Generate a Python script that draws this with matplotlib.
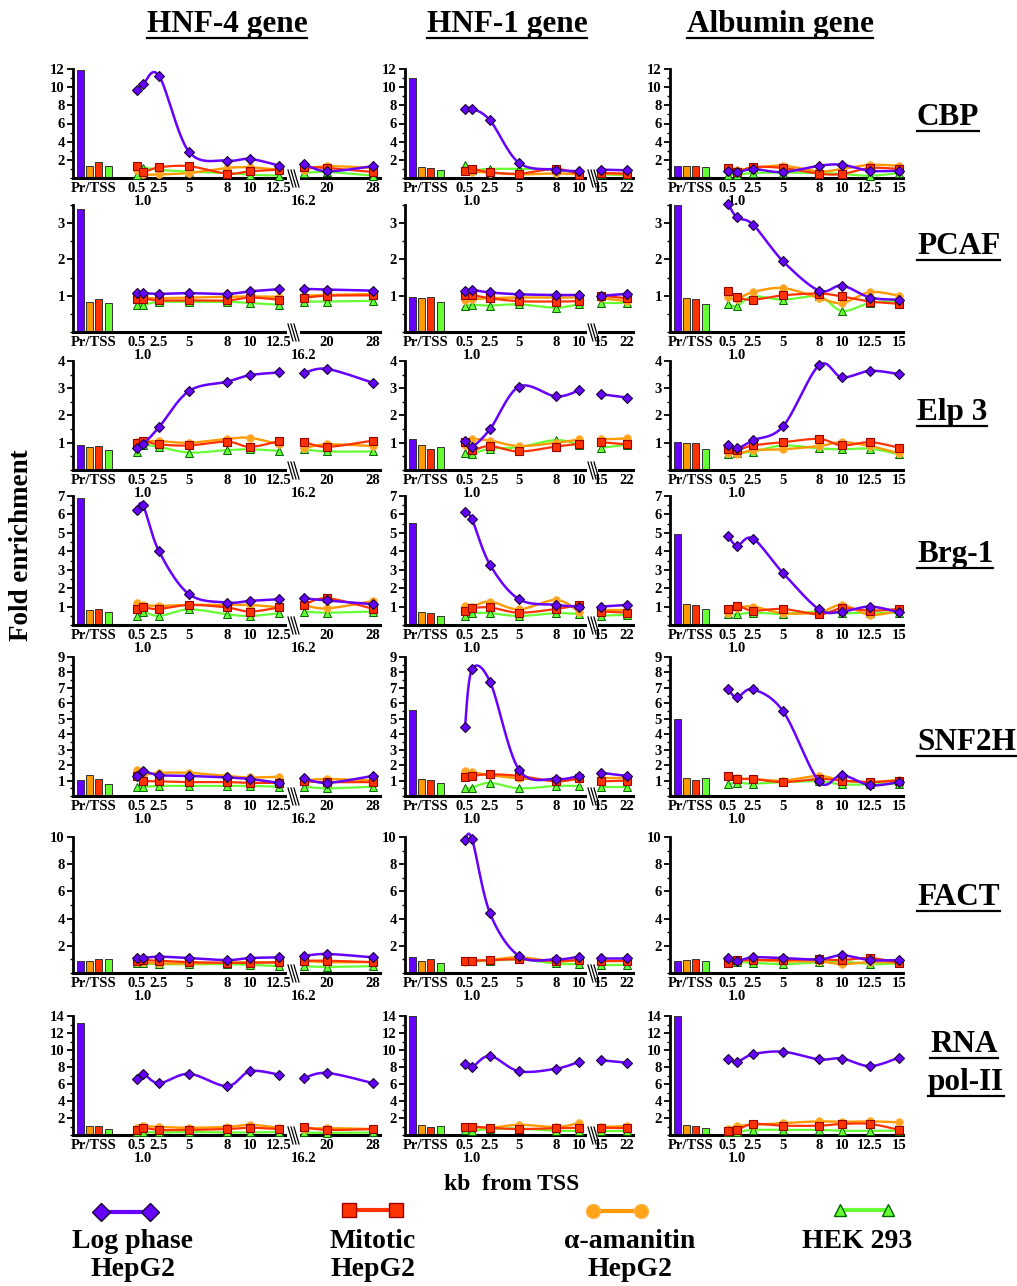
import numpy as np
import matplotlib
matplotlib.use("Agg")
import matplotlib.pyplot as plt
from matplotlib.lines import Line2D
from matplotlib.ticker import MultipleLocator

plt.rcParams['font.family'] = ['Liberation Serif', 'DejaVu Serif']
plt.rcParams['font.weight'] = 'bold'

# ---------------- DATA ----------------
genes = ["HNF-4 gene", "HNF-1 gene", "Albumin gene"]
factors = ["CBP", "PCAF", "Elp 3", "Brg-1", "SNF2H", "FACT", "RNA\npol-II"]
series_names = ["Log phase\nHepG2", "Mitotic\nHepG2", "\u03b1-amanitin\nHepG2", "HEK 293"]
bar_label = "Pr/TSS"
kb_hnf4 = ["0.5", "1.0", "2.5", "5", "8", "10", "12.5", "16.2", "20", "28"]
kb_hnf1 = ["0.5", "1.0", "2.5", "5", "8", "10", "15", "22"]
kb_alb = ["0.5", "1.0", "2.5", "5", "8", "10", "12.5", "15"]
x_title = "kb  from TSS"
y_title = "Fold enrichment"

# bars order: log, mitotic, amanitin, hek
cbp_hnf4_bars = [11.9, 1.77, 1.37, 1.37]
cbp_hnf4_log = [9.67, 10.3, 11.25, 2.88, 1.92, 2.1, 1.37, 1.55, 0.74, 1.3]
cbp_hnf4_mit = [1.3, 0.66, 1.18, 1.3, 0.48, 0.74, 0.92, 1.2, 1.1, 0.66]
cbp_hnf4_ama = [0.9, 0.4, 0.4, 0.55, 1.1, 1.18, 0.9, 0.9, 1.3, 1.1]
cbp_hnf4_hek = [0.37, 1.1, 0.9, 0.7, 0.55, 0.37, 0.26, 0.55, 0.66, 0.26]

cbp_hnf1_bars = [11.0, 1.1, 1.22, 0.85]
cbp_hnf1_log = [7.64, 7.64, 6.35, 1.66, 0.92, 0.74, 0.92, 0.85]
cbp_hnf1_mit = [0.74, 1.0, 0.63, 0.48, 1.0, 0.37, 0.55, 0.48]
cbp_hnf1_ama = [0.8, 0.7, 0.6, 0.4, 0.5, 0.4, 0.5, 0.4]
cbp_hnf1_hek = [1.48, 0.9, 1.0, 1.0, 0.9, 0.5, 0.4, 0.3]

cbp_alb_bars = [1.35, 1.35, 1.27, 1.16]
cbp_alb_log = [0.73, 0.62, 0.98, 0.65, 1.35, 1.45, 0.8, 0.8]
cbp_alb_mit = [1.1, 0.62, 1.2, 1.1, 0.47, 0.44, 1.1, 1.0]
cbp_alb_ama = [1.0, 0.9, 1.1, 1.35, 0.73, 1.0, 1.45, 1.35]
cbp_alb_hek = [0.36, 0.36, 0.55, 0.6, 0.55, 0.44, 0.25, 0.55]

pcaf_hnf4_bars = [3.4, 0.92, 0.84, 0.8]
pcaf_hnf4_log = [1.07, 1.07, 1.05, 1.07, 1.05, 1.12, 1.18, 1.19, 1.17, 1.14]
pcaf_hnf4_mit = [0.92, 0.92, 0.87, 0.87, 0.87, 0.95, 0.89, 0.94, 1.0, 1.01]
pcaf_hnf4_ama = [0.97, 0.95, 0.93, 0.95, 0.97, 0.98, 0.97, 1.0, 1.02, 1.05]
pcaf_hnf4_hek = [0.75, 0.75, 0.83, 0.83, 0.83, 0.8, 0.75, 0.84, 0.84, 0.86]

pcaf_hnf1_bars = [0.97, 0.97, 0.95, 0.82]
pcaf_hnf1_log = [1.14, 1.16, 1.09, 1.04, 1.02, 1.02, 1.0, 1.05]
pcaf_hnf1_mit = [1.02, 1.02, 0.93, 0.85, 0.84, 0.85, 1.0, 0.93]
pcaf_hnf1_ama = [0.88, 0.9, 0.93, 0.95, 0.95, 0.95, 0.93, 0.85]
pcaf_hnf1_hek = [0.73, 0.75, 0.73, 0.76, 0.67, 0.77, 0.79, 0.79]

pcaf_alb_bars = [3.5, 0.91, 0.93, 0.78]
pcaf_alb_log = [3.53, 3.16, 2.96, 1.95, 1.14, 1.28, 0.95, 0.89]
pcaf_alb_mit = [1.14, 0.96, 0.89, 1.01, 1.06, 0.98, 0.84, 0.78]
pcaf_alb_ama = [0.96, 0.91, 1.1, 1.21, 0.94, 0.8, 1.1, 1.0]
pcaf_alb_hek = [0.78, 0.72, 0.98, 0.89, 0.98, 0.58, 0.8, 0.86]

elp3_hnf4_bars = [0.9, 0.88, 0.83, 0.73]
elp3_hnf4_log = [0.79, 0.94, 1.57, 2.9, 3.24, 3.48, 3.58, 3.56, 3.71, 3.2]
elp3_hnf4_mit = [0.98, 1.06, 0.94, 0.9, 1.04, 0.85, 1.06, 1.04, 0.85, 1.08]
elp3_hnf4_ama = [1.02, 1.06, 1.06, 1.0, 1.14, 1.18, 0.94, 0.8, 0.94, 0.88]
elp3_hnf4_hek = [0.67, 0.9, 0.85, 0.64, 0.73, 0.76, 0.7, 0.76, 0.68, 0.68]

elp3_hnf1_bars = [1.12, 0.78, 0.9, 0.86]
elp3_hnf1_log = [1.06, 0.86, 1.5, 3.06, 2.7, 2.92, 2.78, 2.66]
elp3_hnf1_mit = [1.02, 0.74, 0.88, 0.68, 0.86, 0.96, 1.02, 0.94]
elp3_hnf1_ama = [0.92, 1.12, 1.08, 0.88, 1.0, 1.12, 1.12, 1.16]
elp3_hnf1_hek = [0.64, 0.6, 0.78, 0.84, 1.1, 0.92, 0.82, 0.92]

elp3_alb_bars = [1.03, 1.0, 1.0, 0.76]
elp3_alb_log = [0.91, 0.79, 1.09, 1.6, 3.84, 3.4, 3.64, 3.52]
elp3_alb_mit = [0.76, 0.73, 0.9, 1.02, 1.14, 0.9, 1.02, 0.82]
elp3_alb_ama = [0.64, 0.58, 0.73, 0.76, 0.88, 1.02, 0.88, 0.61]
elp3_alb_hek = [0.58, 0.64, 0.67, 0.9, 0.79, 0.76, 0.78, 0.58]

brg1_hnf4_bars = [6.9, 0.87, 0.82, 0.73]
brg1_hnf4_log = [6.24, 6.5, 4.0, 1.67, 1.22, 1.31, 1.4, 1.45, 1.33, 1.13]
brg1_hnf4_mit = [0.87, 0.95, 0.87, 1.09, 0.95, 0.73, 0.95, 1.09, 1.45, 0.88]
brg1_hnf4_ama = [1.18, 1.09, 1.04, 1.09, 1.09, 1.09, 0.96, 1.09, 0.9, 1.3]
brg1_hnf4_hek = [0.51, 0.73, 0.49, 0.85, 0.58, 0.49, 0.64, 0.73, 0.67, 0.73]

brg1_hnf1_bars = [5.55, 0.64, 0.69, 0.51]
brg1_hnf1_log = [6.15, 5.73, 3.27, 1.4, 1.09, 1.0, 1.0, 1.09]
brg1_hnf1_mit = [0.78, 0.91, 0.95, 0.67, 0.87, 1.09, 0.73, 0.67]
brg1_hnf1_ama = [1.05, 1.0, 1.27, 0.85, 1.36, 0.73, 0.82, 0.82]
brg1_hnf1_hek = [0.49, 0.64, 0.64, 0.49, 0.64, 0.6, 0.51, 0.55]

brg1_alb_bars = [4.96, 1.09, 1.13, 0.87]
brg1_alb_log = [4.85, 4.31, 4.69, 2.82, 0.85, 0.73, 1.0, 0.69]
brg1_alb_mit = [0.85, 1.04, 0.78, 0.87, 0.58, 0.91, 0.78, 0.87]
brg1_alb_ama = [0.67, 0.91, 1.0, 0.64, 0.69, 1.09, 0.55, 0.78]
brg1_alb_hek = [0.6, 0.58, 0.67, 0.6, 0.73, 0.64, 0.67, 0.67]

snf2h_hnf4_bars = [1.03, 1.1, 1.35, 0.77]
snf2h_hnf4_log = [1.3, 1.6, 1.35, 1.3, 1.2, 1.1, 0.85, 1.15, 0.85, 1.3]
snf2h_hnf4_mit = [1.3, 1.0, 0.95, 0.9, 0.9, 0.85, 0.85, 0.95, 0.9, 0.9]
snf2h_hnf4_ama = [1.7, 1.4, 1.5, 1.5, 1.3, 1.2, 1.25, 1.0, 1.1, 1.0]
snf2h_hnf4_hek = [0.6, 0.6, 0.65, 0.65, 0.65, 0.65, 0.6, 0.6, 0.5, 0.6]

snf2h_hnf1_bars = [5.6, 1.05, 1.1, 0.85]
snf2h_hnf1_log = [4.5, 8.2, 7.4, 1.7, 1.1, 1.3, 1.5, 1.3]
snf2h_hnf1_mit = [1.2, 1.3, 1.4, 1.3, 0.95, 1.15, 0.95, 1.0]
snf2h_hnf1_ama = [1.6, 1.55, 1.35, 1.15, 1.0, 1.1, 1.15, 1.15]
snf2h_hnf1_hek = [0.5, 0.55, 0.85, 0.5, 0.65, 0.65, 0.6, 0.6]

snf2h_alb_bars = [5.0, 1.05, 1.15, 1.15]
snf2h_alb_log = [6.9, 6.4, 6.9, 5.5, 0.95, 1.35, 0.7, 0.9]
snf2h_alb_mit = [1.3, 1.1, 1.1, 0.9, 1.1, 1.0, 0.9, 1.0]
snf2h_alb_ama = [1.3, 1.15, 1.1, 1.0, 1.3, 1.0, 0.9, 1.05]
snf2h_alb_hek = [0.75, 0.85, 0.8, 0.9, 0.95, 0.75, 0.75, 0.8]

fact_hnf4_bars = [0.9, 1.0, 0.9, 1.0]
fact_hnf4_log = [1.1, 1.1, 1.2, 1.1, 0.95, 1.1, 1.15, 1.25, 1.4, 1.15]
fact_hnf4_mit = [0.9, 0.95, 0.9, 0.8, 0.75, 0.75, 0.8, 0.9, 0.9, 0.8]
fact_hnf4_ama = [0.8, 0.8, 0.7, 0.7, 0.75, 0.8, 0.75, 0.9, 0.8, 0.8]
fact_hnf4_hek = [0.7, 0.7, 0.65, 0.65, 0.65, 0.6, 0.5, 0.5, 0.45, 0.5]

fact_hnf1_bars = [1.2, 1.0, 0.9, 0.75]
fact_hnf1_log = [9.8, 9.85, 4.4, 1.25, 1.0, 1.2, 1.1, 1.1]
fact_hnf1_mit = [0.9, 0.9, 0.95, 1.0, 0.9, 0.95, 0.9, 0.9]
fact_hnf1_ama = [0.8, 0.9, 0.95, 1.15, 0.85, 0.95, 0.9, 0.9]
fact_hnf1_hek = [0.85, 0.85, 0.9, 1.0, 0.7, 0.65, 0.6, 0.6]

fact_alb_bars = [0.9, 1.05, 0.95, 0.85]
fact_alb_log = [1.1, 0.9, 1.15, 1.1, 1.0, 1.3, 0.95, 0.95]
fact_alb_mit = [0.75, 0.95, 0.95, 0.95, 1.0, 0.95, 1.1, 0.75]
fact_alb_ama = [0.9, 0.85, 0.95, 0.85, 0.85, 0.65, 0.8, 0.75]
fact_alb_hek = [0.75, 0.8, 0.75, 0.65, 0.8, 0.85, 0.65, 0.7]

pol2_hnf4_bars = [13.2, 1.05, 1.05, 0.7]
pol2_hnf4_log = [6.6, 7.2, 6.1, 7.2, 5.75, 7.5, 7.1, 6.7, 7.3, 6.1]
pol2_hnf4_mit = [0.6, 0.85, 0.6, 0.6, 0.7, 0.85, 0.7, 0.95, 0.6, 0.7]
pol2_hnf4_ama = [0.85, 1.05, 0.95, 0.85, 0.95, 1.2, 0.85, 0.7, 0.8, 0.7]
pol2_hnf4_hek = [0.3, 0.35, 0.3, 0.35, 0.3, 0.3, 0.35, 0.3, 0.25, 0.3]

pol2_hnf1_bars = [14.0, 1.0, 1.2, 1.1]
pol2_hnf1_log = [8.4, 8.0, 9.3, 7.5, 7.8, 8.6, 8.8, 8.5]
pol2_hnf1_mit = [0.95, 1.0, 0.85, 0.7, 0.8, 0.85, 0.85, 0.8]
pol2_hnf1_ama = [0.95, 0.95, 0.85, 1.2, 0.95, 1.4, 0.95, 1.05]
pol2_hnf1_hek = [0.6, 0.5, 0.7, 0.75, 0.5, 0.5, 0.5, 0.5]

pol2_alb_bars = [14.0, 1.05, 1.2, 0.85]
pol2_alb_log = [8.9, 8.6, 9.5, 9.8, 8.9, 9.0, 8.1, 9.1]
pol2_alb_mit = [0.5, 0.6, 1.3, 1.1, 1.1, 1.3, 1.3, 0.6]
pol2_alb_ama = [0.7, 1.05, 1.2, 1.4, 1.6, 1.55, 1.6, 1.5]
pol2_alb_hek = [0.35, 0.35, 0.6, 0.6, 0.6, 0.5, 0.5, 0.5]

panel_data = {
    (0, 0): (cbp_hnf4_bars, cbp_hnf4_log, cbp_hnf4_mit, cbp_hnf4_ama, cbp_hnf4_hek),
    (0, 1): (cbp_hnf1_bars, cbp_hnf1_log, cbp_hnf1_mit, cbp_hnf1_ama, cbp_hnf1_hek),
    (0, 2): (cbp_alb_bars, cbp_alb_log, cbp_alb_mit, cbp_alb_ama, cbp_alb_hek),
    (1, 0): (pcaf_hnf4_bars, pcaf_hnf4_log, pcaf_hnf4_mit, pcaf_hnf4_ama, pcaf_hnf4_hek),
    (1, 1): (pcaf_hnf1_bars, pcaf_hnf1_log, pcaf_hnf1_mit, pcaf_hnf1_ama, pcaf_hnf1_hek),
    (1, 2): (pcaf_alb_bars, pcaf_alb_log, pcaf_alb_mit, pcaf_alb_ama, pcaf_alb_hek),
    (2, 0): (elp3_hnf4_bars, elp3_hnf4_log, elp3_hnf4_mit, elp3_hnf4_ama, elp3_hnf4_hek),
    (2, 1): (elp3_hnf1_bars, elp3_hnf1_log, elp3_hnf1_mit, elp3_hnf1_ama, elp3_hnf1_hek),
    (2, 2): (elp3_alb_bars, elp3_alb_log, elp3_alb_mit, elp3_alb_ama, elp3_alb_hek),
    (3, 0): (brg1_hnf4_bars, brg1_hnf4_log, brg1_hnf4_mit, brg1_hnf4_ama, brg1_hnf4_hek),
    (3, 1): (brg1_hnf1_bars, brg1_hnf1_log, brg1_hnf1_mit, brg1_hnf1_ama, brg1_hnf1_hek),
    (3, 2): (brg1_alb_bars, brg1_alb_log, brg1_alb_mit, brg1_alb_ama, brg1_alb_hek),
    (4, 0): (snf2h_hnf4_bars, snf2h_hnf4_log, snf2h_hnf4_mit, snf2h_hnf4_ama, snf2h_hnf4_hek),
    (4, 1): (snf2h_hnf1_bars, snf2h_hnf1_log, snf2h_hnf1_mit, snf2h_hnf1_ama, snf2h_hnf1_hek),
    (4, 2): (snf2h_alb_bars, snf2h_alb_log, snf2h_alb_mit, snf2h_alb_ama, snf2h_alb_hek),
    (5, 0): (fact_hnf4_bars, fact_hnf4_log, fact_hnf4_mit, fact_hnf4_ama, fact_hnf4_hek),
    (5, 1): (fact_hnf1_bars, fact_hnf1_log, fact_hnf1_mit, fact_hnf1_ama, fact_hnf1_hek),
    (5, 2): (fact_alb_bars, fact_alb_log, fact_alb_mit, fact_alb_ama, fact_alb_hek),
    (6, 0): (pol2_hnf4_bars, pol2_hnf4_log, pol2_hnf4_mit, pol2_hnf4_ama, pol2_hnf4_hek),
    (6, 1): (pol2_hnf1_bars, pol2_hnf1_log, pol2_hnf1_mit, pol2_hnf1_ama, pol2_hnf1_hek),
    (6, 2): (pol2_alb_bars, pol2_alb_log, pol2_alb_mit, pol2_alb_ama, pol2_alb_hek),
}

# ---------------- LAYOUT / STYLE ----------------
W, H = 1017, 1286
fig = plt.figure(figsize=(W / 100, H / 100), dpi=100)

col_kb = [kb_hnf4, kb_hnf1, kb_alb]
col_left = [73, 405, 670]
col_width = [307, 228, 233]
col_pos = [[64, 70, 86, 116, 154, 177, 206, 231, 254, 300],
           [60, 67, 85, 114, 151, 174, 196, 222],
           [58, 67, 83, 113, 149, 172, 200, 229]]
col_split = [7, 6, None]          # index where segment after axis break starts
col_break = [(212, 228), (180, 194), None]
bar_pos = [7, 16, 25.5, 35]       # log, amanitin, mitotic, hek
bar_center = 21
bar_w = 7
stagger = {"1.0", "16.2"}

row_top = [69, 205, 361, 496, 657, 837, 1016]
row_bot = [178, 332, 470, 625, 796, 973, 1135]
row_ymax = [12, 3.5, 4, 7, 9, 10, 14]
row_step = [2, 1, 1, 1, 1, 2, 2]

PURPLE, RED, ORANGE, GREEN = '#6600ff', '#ff3300', '#ff9900', '#66ff33'
sty = {
    'log': dict(color=PURPLE, marker='D', ms=5.2, mfc=PURPLE, mec='#1a0033', mew=0.8, lw=1.8),
    'mit': dict(color=RED, marker='s', ms=5.5, mfc=RED, mec='#990000', mew=0.8, lw=1.6),
    'ama': dict(color=ORANGE, marker='o', ms=5.5, mfc='#ffa31a', mec='#ffb347', mew=0.6, lw=1.7),
    'hek': dict(color=GREEN, marker='^', ms=5.5, mfc=GREEN, mec='#006600', mew=0.7, lw=1.6),
}
TICKFONT = dict(fontsize=10.5, fontweight='bold', family='Liberation Serif')


def smooth(xs, ys, n=24):
    pts = np.column_stack([xs, ys]).astype(float)
    if len(pts) < 3:
        return pts[:, 0], pts[:, 1]
    P = np.vstack([pts[0], pts, pts[-1]])
    out = []
    t = np.linspace(0, 1, n)[:, None]
    for i in range(1, len(P) - 2):
        p0, p1, p2, p3 = P[i - 1], P[i], P[i + 1], P[i + 2]
        c1 = p1 + (p2 - p0) / 6
        c2 = p2 - (p3 - p1) / 6
        seg = (1 - t) ** 3 * p1 + 3 * (1 - t) ** 2 * t * c1 + 3 * (1 - t) * t ** 2 * c2 + t ** 3 * p2
        out.append(seg if i == 1 else seg[1:])
    out = np.vstack(out)
    return out[:, 0], out[:, 1]


def px_axes(left, top, width, height):
    return fig.add_axes([left / W, 1 - (top + height) / H, width / W, height / H])


for r in range(7):
    for c in range(3):
        bars, log, mit, ama, hek = panel_data[(r, c)]
        h = row_bot[r] - row_top[r]
        ax = px_axes(col_left[c], row_top[r], col_width[c], h)
        ax.set_xlim(0, col_width[c])
        ax.set_ylim(0, row_ymax[r])
        ax.patch.set_alpha(0)
        for s in ['top', 'right', 'bottom']:
            ax.spines[s].set_visible(False)
        ax.spines['left'].set_linewidth(2)
        # bars: log, amanitin, mitotic, hek order
        bar_vals = [bars[0], bars[2], bars[1], bars[3]]
        bar_cols = [PURPLE, ORANGE, RED, GREEN]
        ax.bar(bar_pos, bar_vals, width=bar_w, color=bar_cols, edgecolor='#333333',
               linewidth=0.7, clip_on=False, zorder=2)
        # x axis with break
        xt = ax.get_xaxis_transform()
        brk = col_break[c]
        if brk is None:
            ax.plot([0, col_width[c]], [0, 0], color='black', lw=2.2, transform=xt, clip_on=False, zorder=5)
        else:
            ax.plot([0, brk[0]], [0, 0], color='black', lw=2.2, transform=xt, clip_on=False, zorder=5)
            ax.plot([brk[1], col_width[c]], [0, 0], color='black', lw=2.2, transform=xt, clip_on=False, zorder=5)
            bx = brk[0] + 3
            for k in range(3):
                x0 = bx + k * 3
                ax.plot([x0, x0 + 5], [8 / h, -9 / h], color='black', lw=0.9,
                        transform=xt, clip_on=False, zorder=5)
        # lines
        pos = np.array(col_pos[c], dtype=float)
        split = col_split[c]
        segs = [(0, len(pos))] if split is None else [(0, split), (split, len(pos))]
        for key, vals in [('hek', hek), ('ama', ama), ('mit', mit), ('log', log)]:
            st = sty[key]
            vals = np.array(vals, dtype=float)
            z = {'hek': 6, 'ama': 7, 'mit': 8, 'log': 9}[key]
            for a, b in segs:
                sx, sy = smooth(pos[a:b], vals[a:b])
                ax.plot(sx, sy, color=st['color'], lw=st['lw'], clip_on=False, zorder=z,
                        solid_capstyle='round')
                ax.plot(pos[a:b], vals[a:b], ls='none', marker=st['marker'], ms=st['ms'],
                        mfc=st['mfc'], mec=st['mec'], mew=st['mew'], clip_on=False, zorder=z + 0.5)
        # ticks
        labels = [bar_label] + list(col_kb[c])
        ax.set_xticks([bar_center] + list(pos))
        ax.set_xticklabels(labels, **TICKFONT)
        ax.tick_params(axis='x', length=0, pad=3)
        for tk, lab in zip(ax.xaxis.get_major_ticks(), labels):
            if lab in stagger:
                tk.set_pad(3 + 9.5)
        step = row_step[r]
        yt = np.arange(step, row_ymax[r] + 1e-9, step)
        ax.set_yticks(yt)
        ax.set_yticklabels([f"{v:g}" for v in yt], **TICKFONT)
        ax.yaxis.set_minor_locator(MultipleLocator(step / 2))
        ax.tick_params(axis='y', which='major', length=4, width=1.3, pad=2, direction='out')
        ax.tick_params(axis='y', which='minor', length=2.5, width=1.0, direction='out')


def ftext(x, y, s, **kw):
    return fig.text(x / W, 1 - y / H, s, **kw)


HEAD = dict(fontweight='bold', family='Liberation Serif')
title_x = [227, 507, 780]
texts_ul = []
for c in range(3):
    texts_ul.append(ftext(title_x[c], 32, genes[c], ha='center', va='baseline', fontsize=22.5, **HEAD))

row_lab_y = [125, 254, 420, 562, 750, 905]
for r in range(6):
    texts_ul.append(ftext(917, row_lab_y[r], factors[r], ha='left', va='baseline', fontsize=22.5, **HEAD))
rna1, rna2 = factors[6].split("\n")
texts_ul.append(ftext(964, 1052, rna1, ha='center', va='baseline', fontsize=22.5, **HEAD))
texts_ul.append(ftext(966, 1090, rna2, ha='center', va='baseline', fontsize=22.5, **HEAD))

ftext(22, 545, y_title, ha='center', va='center', rotation=90, fontsize=19.5, **HEAD)
ftext(512, 1185, x_title, ha='center', va='center', fontsize=17, **HEAD)

# legend
leg_x = [(101, 150), (349, 396), (593, 641), (840, 888)]
leg_y = [1212, 1210, 1211, 1210]
leg_keys = ['log', 'mit', 'ama', 'hek']
leg_ms = {'log': 9.5, 'mit': 10, 'ama': 10, 'hek': 9}
for (x1, x2), y, key in zip(leg_x, leg_y, leg_keys):
    st = sty[key]
    fig.add_artist(Line2D([x1 / W, x2 / W], [1 - y / H, 1 - y / H], transform=fig.transFigure,
                          color=st['color'], lw=3, marker=st['marker'], ms=leg_ms[key],
                          mfc=st['mfc'], mec=st['mec'], mew=1.0))
leg_cx = [133, 373, 630, 857]
for cx, name in zip(leg_cx, series_names):
    lines = name.split("\n")
    ftext(cx, 1241, lines[0], ha='center', va='center', fontsize=20, **HEAD)
    if len(lines) > 1:
        ftext(cx, 1270, lines[1], ha='center', va='center', fontsize=20, **HEAD)

# underlines
fig.canvas.draw()
rend = fig.canvas.get_renderer()
for t in texts_ul:
    bb = t.get_window_extent(renderer=rend)
    fig.add_artist(Line2D([bb.x0 / W, bb.x1 / W], [(bb.y0 + 1) / H, (bb.y0 + 1) / H],
                          transform=fig.transFigure, color='black', lw=1.6))

fig.savefig("out.png", dpi=100)
